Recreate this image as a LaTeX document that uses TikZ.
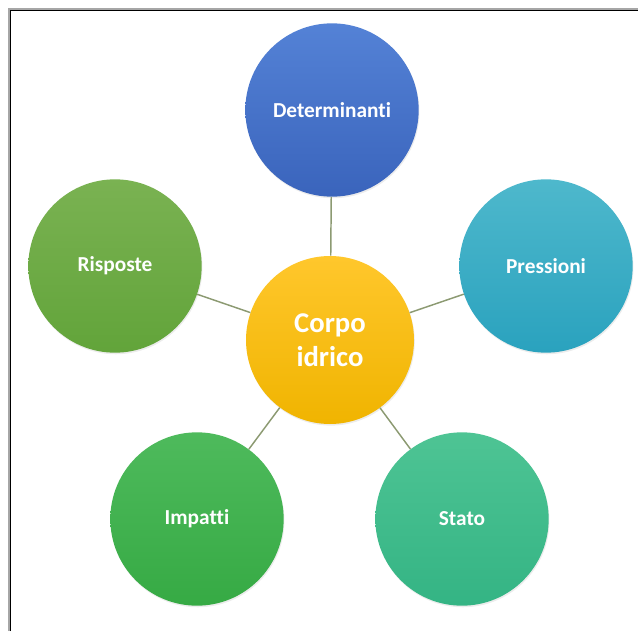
\documentclass[tikz,border=0pt]{standalone}
\usepackage{fontspec}
\setmainfont{Carlito}[Ligatures=NoCommon]
\usetikzlibrary{shadows}
\begin{document}
\begin{tikzpicture}[x=0.75pt,y=-0.75pt,
    element/.style ={circle, inner sep=0pt, minimum size=130pt, text=white,
      font=\fontsize{16}{19}\selectfont\bfseries,
      drop shadow={opacity=0.15, shadow xshift=0.6pt, shadow yshift=-1.2pt}},
    core/.style ={element, minimum size=126pt, align=center,
      font=\fontsize{21.5}{25.5}\selectfont\bfseries},
    link/.style ={draw=linkgray, line width=1.1pt}]
   \definecolor{linkgray}{HTML}{8C9A72}
   \useasboundingbox (0,0) rectangle (638,631);
   % frame
   \draw[line width=1.5pt, color=black!35] (9,631) -- (9,9) -- (638,9);
   \draw[line width=1pt, black] (10.8,631) -- (10.8,10.8) -- (638,10.8);
   % circles
   \node[core, top color={rgb,255:red,255;green,199;blue,44}, bottom color={rgb,255:red,240;green,180;blue,0}] (C) at (330,340) {Corpo\\idrico};
   \node[element, top color={rgb,255:red,84;green,130;blue,214}, bottom color={rgb,255:red,58;green,100;blue,188}] (D) at (332,110) {Determinanti};
   \node[element, top color={rgb,255:red,78;green,184;blue,204}, bottom color={rgb,255:red,42;green,162;blue,190}] (P) at (546,266) {Pressioni};
   \node[element, top color={rgb,255:red,78;green,196;blue,148}, bottom color={rgb,255:red,52;green,180;blue,132}] (S) at (462,519) {Stato};
   \node[element, top color={rgb,255:red,78;green,186;blue,92}, bottom color={rgb,255:red,54;green,170;blue,68}] (I) at (197,519) {Impatti};
   \node[element, top color={rgb,255:red,122;green,178;blue,82}, bottom color={rgb,255:red,98;green,164;blue,58}] (R) at (115,266) {Risposte};
   % connectors
   \draw[link] (C) -- (D);
   \draw[link] (C) -- (P);
   \draw[link] (C) -- (S);
   \draw[link] (C) -- (I);
   \draw[link] (C) -- (R);
\end{tikzpicture}
\end{document}
